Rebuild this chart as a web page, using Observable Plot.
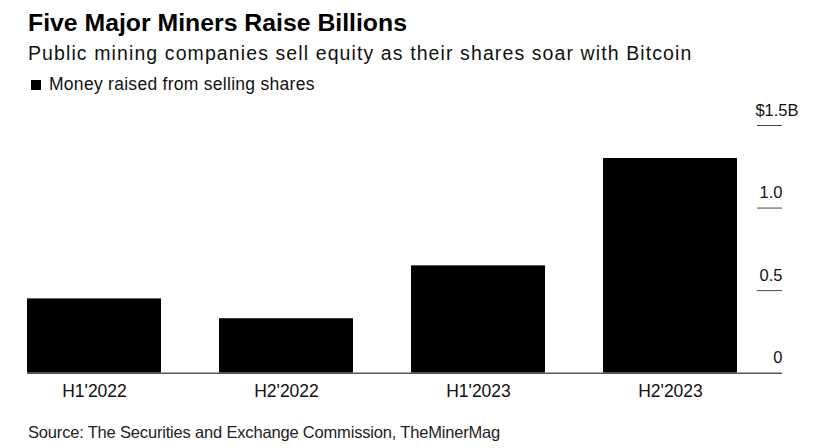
<!DOCTYPE html>
<html>
<head>
<meta charset="utf-8">
<script src="https://cdn.jsdelivr.net/npm/d3@7"></script>
<script src="https://cdn.jsdelivr.net/npm/@observablehq/plot@0.6"></script>
<style>
  html, body { margin: 0; padding: 0; background: #fff; }
  body { width: 840px; height: 448px; position: relative; overflow: hidden;
         font-family: "Liberation Sans", Arial, Helvetica, sans-serif; color: #111; }
  .abs { position: absolute; left: 28px; white-space: nowrap; }
  #title { top: 10.6px; font-size: 24.8px; line-height: 24.8px; font-weight: bold; color: #000; }
  #subtitle { top: 44.2px; font-size: 19.5px; line-height: 19.5px; letter-spacing: 1.1px; color: #111; }
  #legend { top: 76.2px; left: 31px; font-size: 17.5px; line-height: 17.5px; letter-spacing: 0.28px; color: #111; }
  #legend .sw { display: inline-block; width: 10px; height: 10px; background: #000;
                margin-right: 8px; vertical-align: 0px; }
  #chart { position: absolute; left: 0; top: 100px; }
  #source { top: 424.3px; font-size: 16.5px; line-height: 16.5px; letter-spacing: -0.18px; color: #222; }
</style>
</head>
<body>
<div id="title" class="abs">Five Major Miners Raise Billions</div>
<div id="subtitle" class="abs">Public mining companies sell equity as their shares soar with Bitcoin</div>
<div id="legend" class="abs"><span class="sw"></span>Money raised from selling shares</div>
<div id="chart"></div>
<div id="source" class="abs">Source: The Securities and Exchange Commission, TheMinerMag</div>
<script>
const periods = ["H1'2022", "H2'2022", "H1'2023", "H2'2023"];
const raised = [0.45, 0.33, 0.65, 1.30]; // $ billions
const yTicks = [0, 0.5, 1.0, 1.5];
const yTickLabels = ["0", "0.5", "1.0", "$1.5B"];

const data = periods.map((p, i) => ({period: p, value: raised[i]}));
const tickData = yTicks.map((v, i) => ({v, label: yTickLabels[i]}));

const chart = Plot.plot({
  width: 840,
  height: 320,
  marginLeft: 27,
  marginRight: 58,
  marginTop: 25,
  marginBottom: 47.3,
  style: {fontFamily: "'Liberation Sans', Arial, sans-serif", color: "#111", background: "#fff"},
  x: {type: "band", domain: periods, range: [27, 738], paddingInner: 0.3, paddingOuter: 0, axis: null},
  y: {domain: [0, 1.5], axis: null},
  marks: [
    Plot.barY(data, {x: "period", y: "value", fill: "#000"}),
    Plot.ruleY(yTicks.filter(d => d > 0), {stroke: "#444", strokeWidth: 1, insetLeft: 730}),
    Plot.ruleY([0], {stroke: "#555", strokeWidth: 1.5}),
    Plot.text(tickData.filter(d => d.v < 1.5), {
      y: "v", text: "label", frameAnchor: "right", textAnchor: "end",
      lineAnchor: "bottom", dy: -10, fontSize: 16.5, fill: "#111"
    }),
    Plot.text(tickData.filter(d => d.v === 1.5), {
      y: "v", text: "label", frameAnchor: "right", textAnchor: "end",
      lineAnchor: "bottom", dy: -10, dx: 16, fontSize: 16.5, fill: "#111"
    }),
    Plot.text(periods, {
      x: d => d, frameAnchor: "bottom", textAnchor: "middle",
      lineAnchor: "bottom", dy: 23.3, fontSize: 17.5, fill: "#111"
    })
  ]
});
document.getElementById("chart").appendChild(chart);
</script>
</body>
</html>
